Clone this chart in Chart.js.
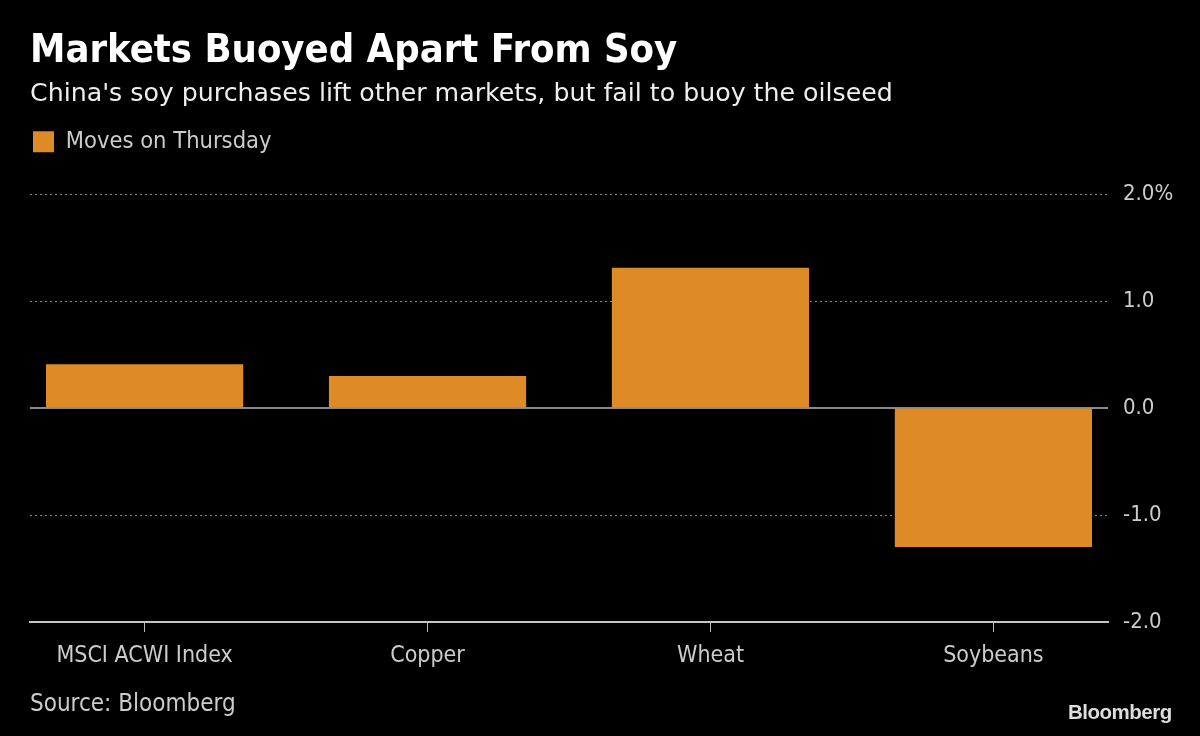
<!DOCTYPE html>
<html><head><meta charset="utf-8">
<script src="https://cdn.jsdelivr.net/npm/chart.js@4"></script>
<style>
html,body{margin:0;padding:0;background:#000;width:1200px;height:736px;overflow:hidden}
#wrap{position:relative;width:1200px;height:736px}
#c{position:absolute;left:0;top:0}
.t{position:absolute;white-space:nowrap;font-family:'DejaVu Sans Condensed','DejaVu Sans',sans-serif;line-height:1}
#title{left:30px;top:29px;font-size:39.6px;font-weight:bold;color:#fff}
#sub{left:30px;top:80px;font-size:25.25px;color:#eee;font-family:'DejaVu Sans',sans-serif}
#src{left:30px;top:691px;font-size:24px;color:#ccc}
#logo{left:1068px;top:702px;font-size:20.5px;font-weight:bold;color:#ddd;font-family:'Liberation Sans',Arial,sans-serif;letter-spacing:-0.5px}
</style></head>
<body><div id="wrap">
<canvas id="c" width="1200" height="736"></canvas>
<div class="t" id="title">Markets Buoyed Apart From Soy</div>
<div class="t" id="sub">China's soy purchases lift other markets, but fail to buoy the oilseed</div>
<div class="t" id="src">Source: Bloomberg</div>
<div class="t" id="logo">Bloomberg</div>
</div>
<script>
const categories = ['MSCI ACWI Index', 'Copper', 'Wheat', 'Soybeans'];
const moves = [0.41, 0.30, 1.31, -1.30];
const seriesName = 'Moves on Thursday';
const yTickValues = [-2, -1, 0, 1, 2];
const yTickLabels = ['-2.0', '-1.0', '0.0', '1.0', '2.0%'];

const FONT = "'DejaVu Sans Condensed','DejaVu Sans',sans-serif";

const zeroLine = {
  id: 'zeroLine',
  beforeDatasetsDraw(chart) {
    const {ctx, chartArea, scales} = chart;
    const y = Math.round(scales.y.getPixelForValue(0));
    ctx.save();
    ctx.strokeStyle = '#8a8a8a';
    ctx.lineWidth = 2;
    ctx.beginPath();
    ctx.moveTo(chartArea.left, y);
    ctx.lineTo(chartArea.right, y);
    ctx.stroke();
    ctx.restore();
  }
};

new Chart(document.getElementById('c'), {
  type: 'bar',
  data: {
    datasets: [{
      label: seriesName,
      data: categories.map((c, i) => ({x: i, y: moves[i]})),
      backgroundColor: '#DD8A27',
      borderWidth: 0,
      barPercentage: 0.697,
      categoryPercentage: 1.0
    }]
  },
  options: {
    responsive: false,
    animation: false,
    devicePixelRatio: 1,
    layout: {padding: {left: 30, right: 0, top: 127, bottom: 64}},
    plugins: {
      legend: {
        display: true,
        position: 'top',
        align: 'start',
        labels: {
          boxWidth: 21, boxHeight: 21, color: '#ccc',
          font: {family: FONT, size: 23.5},
          padding: 3
        }
      },
      subtitle: {
        display: true,
        text: '',
        position: 'top',
        weight: 500,
        font: {size: 10, lineHeight: 1},
        padding: {top: 10, bottom: 10.5}
      },
      tooltip: {enabled: false}
    },
    scales: {
      x: {
        type: 'linear',
        offset: false,
        min: -0.405, max: 3.405,
        afterBuildTicks: (s) => { s.ticks = categories.map((c, i) => ({value: i})); },
        afterFit: (s) => { s.height = 50; },
        ticks: {
          callback: (v) => categories[v],
          color: '#ccc', font: {family: FONT, size: 23}, padding: 10,
          autoSkip: false, maxRotation: 0
        },
        grid: {offset: false, drawOnChartArea: false, drawTicks: true, tickLength: 10, tickColor: '#bbb', tickWidth: 1},
        border: {display: true, color: '#c4c4c4', width: 2}
      },
      y: {
        position: 'right',
        min: -2, max: 2,
        afterBuildTicks: (s) => { s.ticks = yTickValues.map(v => ({value: v})); },
        afterFit: (s) => { s.width = 92; },
        ticks: {
          callback: (v) => yTickLabels[yTickValues.indexOf(v)],
          color: '#ccc', font: {family: FONT, size: 22}, padding: 15,
          crossAlign: 'near'
        },
        grid: {
          color: (ctx) => (ctx.tick && (ctx.tick.value === -2 || ctx.tick.value === 0)) ? 'rgba(0,0,0,0)' : '#8a8a8a',
          lineWidth: 1, drawTicks: false
        },
        border: {display: false, dash: [2, 3]}
      }
    }
  },
  plugins: [zeroLine]
});
</script>
</body></html>
